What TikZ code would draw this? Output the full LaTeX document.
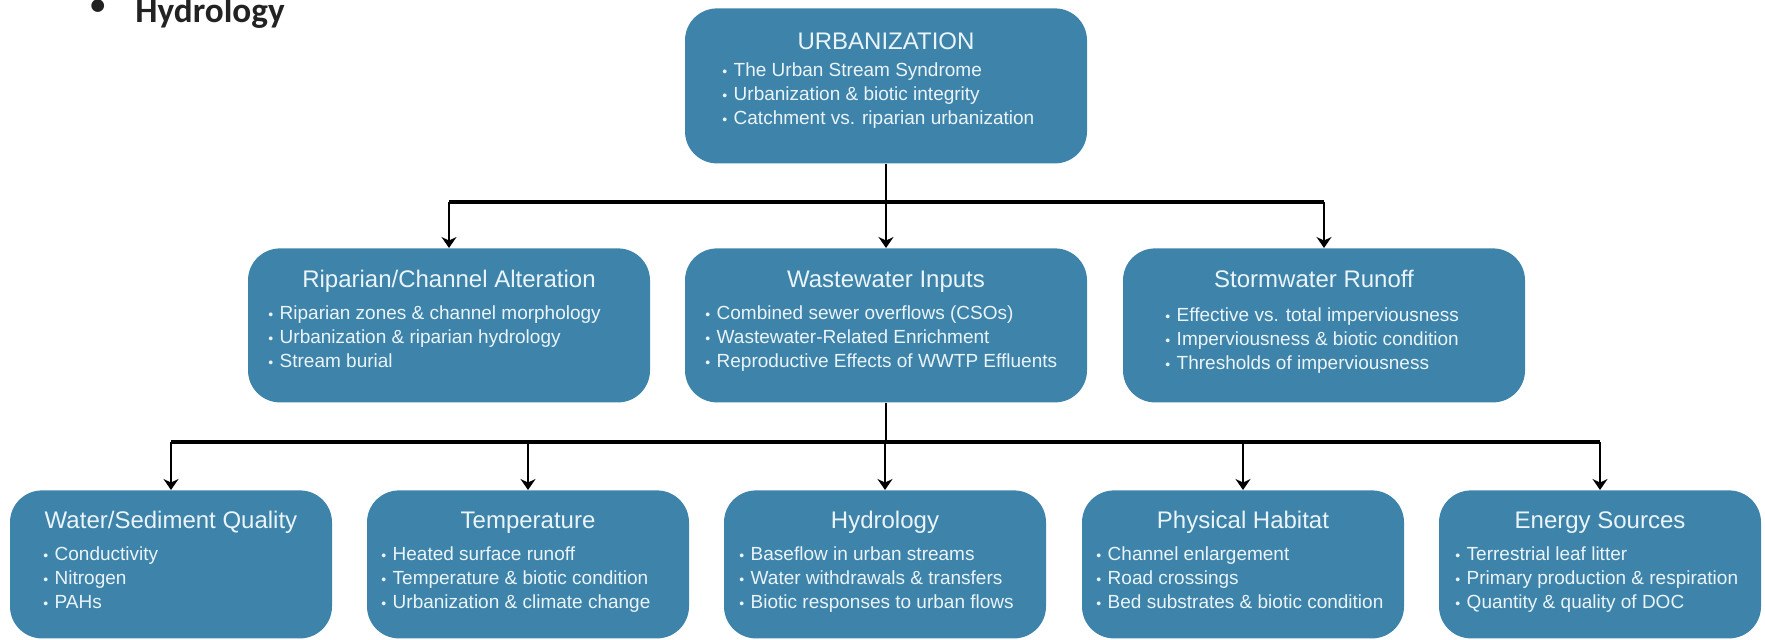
\documentclass[tikz,border=0pt]{standalone}
\usepackage{fontspec}
\setmainfont{Liberation Sans}
\newfontfamily\headfont{Carlito}
\usetikzlibrary{positioning, shapes, arrows, arrows.meta}

\definecolor{boxblue}{RGB}{62,132,170}
\definecolor{boxtext}{RGB}{234,244,249}
\definecolor{headgray}{RGB}{34,34,34}

\tikzset{
    topic/.style={rectangle, rounded corners=16pt, fill=boxblue, inner sep=0pt, minimum width=201pt, minimum height=77pt},
    subtopic/.style={topic, minimum width=161pt, minimum height=74pt},
    ttl/.style={anchor=base, text=boxtext, inner sep=0pt, font=\fontsize{12}{14}\selectfont},
    pts/.style={anchor=base west, align=left, text=boxtext, inner sep=0pt, font=\fontsize{9.5}{12}\selectfont},
    link/.style={line width=1.2pt},
    feed/.style={link, ->},
    bus/.style={line width=1.8pt},
}
\newcommand{\blt}{{\fontsize{7}{7}\selectfont\textbullet}\hspace{3.2pt}}

\begin{document}
\begin{tikzpicture}[>={Stealth[length=5.5pt,width=7.5pt]}, x=0.5pt, y=-0.5pt]
        \useasboundingbox (0,0) rectangle (1765,640);

        \node at (90,23) [anchor=base west, inner sep=0pt, text=headgray, font=\headfont\bfseries\fontsize{17.6}{20}\selectfont] (section) {\makebox[22.5pt][l]{\raisebox{4pt}{\fontsize{15}{15}\selectfont\textbullet}}Hydrology};

        % top level (list nodes sit on their last line)
        \node at (886,8) [topic, anchor=north, minimum height=77.5pt] (urban) {};
        \node at (886,50) [ttl] (urban_t) {URBANIZATION};
        \node at (722,125) [pts] (urban_l) {\blt The Urban Stream Syndrome\\ \blt Urbanization \& biotic integrity\\ \blt Catchment vs. riparian urbanization};

        % second level
        \node at (449,248) [topic, anchor=north] (ripar) {};
        \node at (449,288) [ttl] (ripar_t) {Riparian/Channel Alteration};
        \node at (268,368) [pts] (ripar_l) {\blt Riparian zones \& channel morphology\\ \blt Urbanization \& riparian hydrology\\ \blt Stream burial};

        \node at (886,248) [topic, anchor=north] (waste) {};
        \node at (886,288) [ttl] (waste_t) {Wastewater Inputs};
        \node at (705,368) [pts] (waste_l) {\blt Combined sewer overflows (CSOs)\\ \blt Wastewater-Related Enrichment\\ \blt Reproductive Effects of WWTP Effluents};

        \node at (1324,248) [topic, anchor=north] (storm) {};
        \node at (1314,288) [ttl] (storm_t) {Stormwater Runoff};
        \node at (1165,370) [pts] (storm_l) {\blt Effective vs. total imperviousness\\ \blt Imperviousness \& biotic condition\\ \blt Thresholds of imperviousness};

        % third level
        \node at (171,490) [subtopic, anchor=north] (water) {};
        \node at (171,528) [ttl] (water_t) {Water/Sediment Quality};
        \node at (43,608) [pts] (water_l) {\blt Conductivity\\ \blt Nitrogen\\ \blt PAHs};

        \node at (528,490) [subtopic, anchor=north] (temp) {};
        \node at (528,528) [ttl] (temp_t) {Temperature};
        \node at (381,608) [pts] (temp_l) {\blt Heated surface runoff\\ \blt Temperature \& biotic condition\\ \blt Urbanization \& climate change};

        \node at (885,490) [subtopic, anchor=north] (hydro) {};
        \node at (885,528) [ttl] (hydro_t) {Hydrology};
        \node at (739,608) [pts] (hydro_l) {\blt Baseflow in urban streams\\ \blt Water withdrawals \& transfers\\ \blt Biotic responses to urban flows};

        \node at (1243,490) [subtopic, anchor=north] (habit) {};
        \node at (1243,528) [ttl] (habit_t) {Physical Habitat};
        \node at (1096,608) [pts] (habit_l) {\blt Channel enlargement\\ \blt Road crossings\\ \blt Bed substrates \& biotic condition};

        \node at (1600,490) [subtopic, anchor=north] (energy) {};
        \node at (1600,528) [ttl] (energy_t) {Energy Sources};
        \node at (1455,608) [pts] (energy_l) {\blt Terrestrial leaf litter\\ \blt Primary production \& respiration\\ \blt Quantity \& quality of DOC};

        % connectors
        \coordinate (bus_top) at (886,202);
        \coordinate (bus_low) at (886,442);

        \draw[link] (urban.south) -- (bus_top);
        \draw[bus] (bus_top -| ripar.north) -- (bus_top -| storm.north);
        \foreach \n in {ripar, waste, storm}
            \draw[feed] (bus_top -| \n.north) -- (\n.north);

        \draw[link] (waste.south) -- (bus_low);
        \draw[bus] (bus_low -| water.north) -- (bus_low -| energy.north);
        \foreach \n in {water, temp, hydro, habit, energy}
            \draw[feed] (bus_low -| \n.north) -- (\n.north);

    \end{tikzpicture}
\end{document}
